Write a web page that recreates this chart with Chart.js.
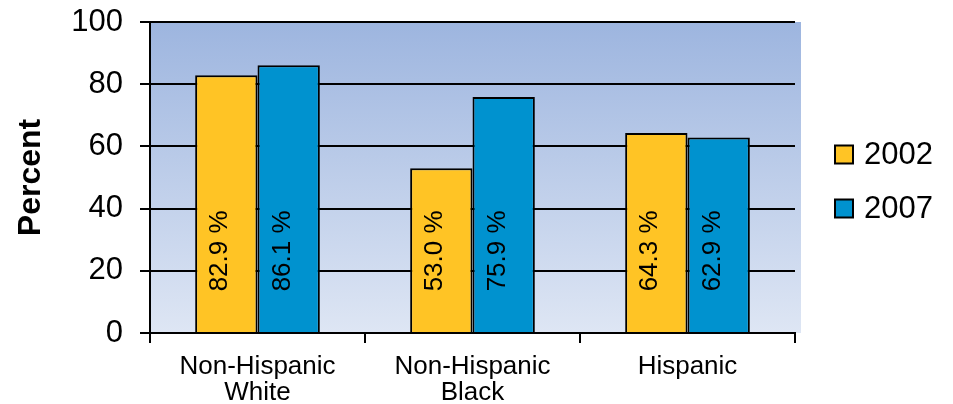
<!DOCTYPE html>
<html>
<head>
<meta charset="utf-8">
<script src="https://cdn.jsdelivr.net/npm/chart.js@4"></script>
<style>
  html, body { margin: 0; padding: 0; background: #ffffff; }
  #wrap { width: 953px; height: 404px; }
</style>
</head>
<body>
<div id="wrap"><canvas id="chart" width="953" height="404"></canvas></div>
<script>
// data
var categories = [['Non-Hispanic', 'White'], ['Non-Hispanic', 'Black'], 'Hispanic'];
var years = ['2002', '2007'];
var values2002 = [82.9, 53.0, 64.3];
var values2007 = [86.1, 75.9, 62.9];
var yTicks = [0, 20, 40, 60, 80, 100];

var FONT = '"Liberation Sans", Arial, sans-serif';

// gradient behind the plot area
var plotBackground = {
  id: 'plotBackground',
  beforeDraw: function(chart) {
    var a = chart.chartArea;
    var ctx = chart.ctx;
    var g = ctx.createLinearGradient(0, a.top, 0, a.bottom);
    g.addColorStop(0, '#9db5df');
    g.addColorStop(1, '#dee6f4');
    ctx.save();
    ctx.fillStyle = g;
    ctx.fillRect(a.left, a.top, a.right - a.left + 6, a.bottom - a.top);
    ctx.restore();
  }
};

// rotated value labels inside the bars
var barLabels = {
  id: 'barLabels',
  afterDatasetsDraw: function(chart) {
    var ctx = chart.ctx;
    var yPos = chart.scales.y.getPixelForValue(26.4);
    ctx.save();
    ctx.font = '26px ' + FONT;
    ctx.fillStyle = '#000';
    ctx.textAlign = 'center';
    ctx.textBaseline = 'middle';
    chart.data.datasets.forEach(function(ds, i) {
      chart.getDatasetMeta(i).data.forEach(function(bar, j) {
        ctx.save();
        ctx.translate(bar.x - 6, yPos);
        ctx.rotate(-Math.PI / 2);
        ctx.fillText(ds.data[j].toFixed(1) + ' %', 0, 0);
        ctx.restore();
      });
    });
    ctx.restore();
  }
};

// legend to the right of the plot, next to the middle of it
var sideLegend = {
  id: 'sideLegend',
  afterDraw: function(chart) {
    var a = chart.chartArea;
    var ctx = chart.ctx;
    var boxX = a.right + 40;
    var firstY = (a.top + a.bottom) / 2 - 23;
    ctx.save();
    ctx.font = '31px ' + FONT;
    ctx.textBaseline = 'middle';
    chart.data.datasets.forEach(function(ds, i) {
      var cy = firstY + i * 54;
      ctx.fillStyle = ds.backgroundColor;
      ctx.fillRect(boxX, cy - 9, 18, 18);
      ctx.strokeStyle = '#000';
      ctx.lineWidth = 2;
      ctx.strokeRect(boxX, cy - 9, 18, 18);
      ctx.fillStyle = '#000';
      ctx.fillText(ds.label, boxX + 29, cy + 1);
    });
    ctx.restore();
  }
};

new Chart(document.getElementById('chart'), {
  type: 'bar',
  data: {
    labels: categories,
    datasets: [{
      label: years[0],
      data: values2002,
      backgroundColor: '#ffc425',
      borderColor: '#000',
      borderWidth: 2,
      borderSkipped: 'bottom'
    }, {
      label: years[1],
      data: values2007,
      backgroundColor: '#0092cf',
      borderColor: '#000',
      borderWidth: 2,
      borderSkipped: 'bottom'
    }]
  },
  options: {
    responsive: false,
    animation: false,
    devicePixelRatio: 1,
    layout: { padding: { top: 0, left: 8, right: 158, bottom: 0 } },
    datasets: { bar: { categoryPercentage: 0.58, barPercentage: 1.0 } },
    plugins: {
      legend: { display: false },
      tooltip: { enabled: false }
    },
    scales: {
      x: {
        offset: true,
        grid: { display: true, drawOnChartArea: false, offset: true, color: '#000', lineWidth: 2, tickLength: 10 },
        border: { display: true, color: '#000', width: 2 },
        ticks: { color: '#000', font: { family: FONT, size: 26, lineHeight: 1.0 }, padding: 11, maxRotation: 0 },
        afterFit: function(s) { s.height = 71; }
      },
      y: {
        min: 0,
        max: 100,
        afterBuildTicks: function(s) { s.ticks = yTicks.map(function(v) { return { value: v }; }); },
        grid: { color: '#000', lineWidth: 2, tickLength: 10 },
        border: { display: true, color: '#000', width: 2 },
        ticks: { color: '#000', font: { family: FONT, size: 31 }, padding: 17 },
        title: { display: true, text: 'Percent', color: '#000', font: { family: FONT, size: 32, weight: 'bold' }, padding: { top: 4, bottom: 0 } },
        afterFit: function(s) { s.width = 142; s.paddingTop = 22; }
      }
    }
  },
  plugins: [plotBackground, barLabels, sideLegend]
});
</script>
</body>
</html>
